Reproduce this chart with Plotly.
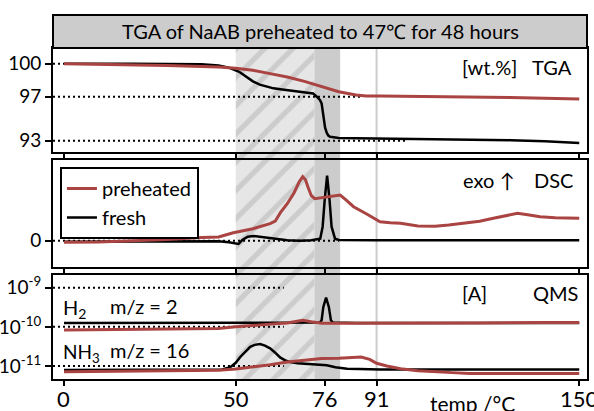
import plotly.graph_objects as go

# ---------------- data ----------------
RED = "#a94442"
BLACK = "#000000"
GREY = "#cccccc"

TICKS_X = [0, 50, 76, 91, 150]
HATCH_RANGE = [50, 72.9]
GREY_RANGE = [72.9, 80.4]
MARK_LINE = 91

# TGA [wt.%]
tga_fresh_x = [0, 10, 20, 30, 40, 45, 48, 51, 53, 55, 57, 59, 61, 63, 65, 67, 69, 71, 72.5, 73.6,
               74.5, 75, 75.5, 76, 76.5, 77, 77.5, 78.5, 80, 85, 92, 100, 110, 120, 130, 140, 150]
tga_fresh_y = [100.0, 100.02, 100.0, 99.98, 99.95, 99.85, 99.65, 99.27, 98.85, 98.4, 98.1, 97.9,
               97.76, 97.67, 97.6, 97.55, 97.48, 97.4, 97.3, 97.0, 96.7, 96.4, 95.2, 94.2, 93.7,
               93.45, 93.35, 93.3, 93.25, 93.22, 93.2, 93.18, 93.15, 93.1, 93.05, 92.95, 92.8]
tga_pre_x = [0, 10, 20, 30, 40, 45, 50, 55, 60, 65, 70, 75, 80, 85, 88, 92, 100, 110, 120, 130, 140, 150]
tga_pre_y = [100.0, 99.95, 99.93, 99.85, 99.75, 99.7, 99.58, 99.4, 99.1, 98.8, 98.4, 97.9, 97.45,
             97.15, 97.07, 97.07, 97.05, 97.02, 96.97, 96.92, 96.87, 96.8]
TGA_TICKS = [100, 97, 93]
TGA_REF = [(97, 87), (93, 100)]

# DSC (arb. units, exo up)
dsc_fresh_x = [0, 20, 40, 45, 48, 50.8, 52, 53.5, 55.1, 57, 60, 62, 65, 68.7, 72, 74.6, 75.3, 75.9,
               76.6, 77.3, 77.9, 78.9, 80, 90, 110, 130, 150]
dsc_fresh_y = [-0.1, -0.05, -0.03, -0.05, -0.15, -0.33, 0.1, 0.4, 0.47, 0.4, 0.25, 0.14, 0.05, 0.0,
               0.05, 0.2, 1.4, 4.1, 6.5, 4.1, 1.4, 0.2, 0.07, 0.05, 0.05, 0.05, 0.05]
dsc_pre_x = [0, 10, 20, 30, 40, 45, 49.3, 55, 60, 61.5, 63, 65, 67, 68.5, 69.5, 70.3, 71, 72, 73,
             75.5, 78, 80.4, 82, 84.3, 88, 92, 95, 98, 103, 108, 112, 117, 121, 125, 129, 132, 135,
             138.6, 143, 150]
dsc_pre_y = [-0.16, -0.12, 0.0, 0.12, 0.33, 0.38, 0.8, 1.2, 1.7, 1.95, 2.8, 3.7, 4.8, 5.9, 6.4, 6.1,
             5.4, 4.5, 4.2, 4.3, 4.4, 4.57, 4.1, 3.4, 2.7, 1.9, 1.8, 1.74, 1.47, 1.45, 1.57, 1.8,
             1.95, 2.24, 2.55, 2.74, 2.6, 2.4, 2.3, 2.24]
DSC_REF = [(0, 80)]

# QMS [A] (log10 of current)
h2_fresh_x = [0, 20, 40, 60, 70, 74.5, 75.0, 75.5, 76.3, 77.1, 77.7, 78.3, 85, 100, 120, 150]
h2_fresh_y = [-9.9, -9.9, -9.9, -9.9, -9.9, -9.89, -9.83, -9.49, -9.25, -9.49, -9.83, -9.89, -9.9,
              -9.9, -9.9, -9.9]
h2_pre_x = [0, 10, 20, 30, 40, 45, 50, 55, 60, 65, 68, 69.5, 72, 75, 80, 90, 100, 120, 140, 150]
h2_pre_y = [-10.08, -10.07, -10.07, -10.06, -10.05, -10.04, -10.0, -9.96, -9.93, -9.9, -9.85,
            -9.83, -9.87, -9.91, -9.91, -9.91, -9.9, -9.9, -9.89, -9.89]
nh3_fresh_x = [0, 20, 40, 46, 48.4, 50, 51.3, 52.8, 54.2, 55.5, 57.1, 58.5, 60, 61.5, 62.9, 64.5,
               65.8, 68, 70.7, 73, 76.5, 79, 82.4, 86, 92, 110, 130, 150]
nh3_fresh_y = [-11.1, -11.1, -11.1, -11.09, -11.03, -10.92, -10.77, -10.63, -10.51, -10.46, -10.44,
               -10.48, -10.55, -10.66, -10.78, -10.86, -10.9, -10.93, -10.94, -10.95, -10.98,
               -11.03, -11.07, -11.08, -11.09, -11.09, -11.09, -11.09]
nh3_pre_x = [0, 20, 40, 45, 50, 55, 60, 65, 70, 75, 80, 84, 86.5, 89, 91, 94, 98, 103, 108, 113,
             118, 130, 140, 150]
nh3_pre_y = [-11.15, -11.13, -11.11, -11.11, -11.08, -11.03, -10.97, -10.9, -10.86, -10.81, -10.8,
             -10.78, -10.77, -10.83, -10.93, -11.0, -11.07, -11.12, -11.15, -11.17, -11.19,
             -11.19, -11.19, -11.19]
QMS_TICKS = [-9, -10, -11]
QMS_REF = [(-9, 64), (-10, 64), (-11, 64)]

TITLE = "TGA of NaAB preheated to 47℃ for 48 hours"
FONT = "Lato"

# ---------------- layout geometry ----------------
XR = [-3.2, 152.26]
D1 = [0.6236, 0.9093]
D2 = [0.3077, 0.6016]
D3 = [0.0, 0.2857]

fig = go.Figure()

# background hatch subplot (xy)
fig.add_trace(go.Scatter(x=[HATCH_RANGE[0], HATCH_RANGE[1], HATCH_RANGE[1], HATCH_RANGE[0], HATCH_RANGE[0]],
                         y=[0, 0, 1, 1, 0], mode="lines", fill="toself", line=dict(width=0),
                         fillcolor=GREY,
                         fillpattern=dict(shape="/", bgcolor=GREY, fgcolor="white", size=20, solidity=0.74),
                         xaxis="x", yaxis="y", showlegend=False, hoverinfo="skip"))
fig.add_trace(go.Scatter(x=[GREY_RANGE[0], GREY_RANGE[1], GREY_RANGE[1], GREY_RANGE[0], GREY_RANGE[0]],
                         y=[0, 0, 1, 1, 0], mode="lines", fill="toself", line=dict(width=0),
                         fillcolor=GREY, xaxis="x", yaxis="y", showlegend=False, hoverinfo="skip"))
fig.add_trace(go.Scatter(x=[MARK_LINE, MARK_LINE], y=[0, 1], mode="lines",
                         line=dict(color=GREY, width=2), xaxis="x", yaxis="y",
                         showlegend=False, hoverinfo="skip"))

DOT = "2px,3px"

def ref(yv, xend, xa, ya):
    fig.add_trace(go.Scatter(x=[XR[0], xend], y=[yv, yv], mode="lines",
                             line=dict(color="black", width=2, dash=DOT),
                             xaxis=xa, yaxis=ya, showlegend=False, hoverinfo="skip"))

# panel 1: TGA
ref(100, 0, "x2", "y2")
for v, e in TGA_REF:
    ref(v, e, "x2", "y2")
fig.add_trace(go.Scatter(x=tga_fresh_x, y=tga_fresh_y, mode="lines", line=dict(color=BLACK, width=2.5),
                         xaxis="x2", yaxis="y2", showlegend=False))
fig.add_trace(go.Scatter(x=tga_pre_x, y=tga_pre_y, mode="lines", line=dict(color=RED, width=3),
                         xaxis="x2", yaxis="y2", showlegend=False))

# panel 2: DSC
for v, e in DSC_REF:
    ref(v, e, "x3", "y3")
fig.add_trace(go.Scatter(x=dsc_fresh_x, y=dsc_fresh_y, mode="lines", line=dict(color=BLACK, width=2.5),
                         xaxis="x3", yaxis="y3", name="fresh", legendrank=2))
fig.add_trace(go.Scatter(x=dsc_pre_x, y=dsc_pre_y, mode="lines", line=dict(color=RED, width=3),
                         xaxis="x3", yaxis="y3", name="preheated", legendrank=1))

# panel 3: QMS
for v, e in QMS_REF:
    ref(10 ** v, e, "x4", "y4")
for xs, ys in [(h2_fresh_x, h2_fresh_y), (nh3_fresh_x, nh3_fresh_y)]:
    fig.add_trace(go.Scatter(x=xs, y=[10 ** v for v in ys], mode="lines",
                             line=dict(color=BLACK, width=2.5), xaxis="x4", yaxis="y4", showlegend=False))
for xs, ys in [(h2_pre_x, h2_pre_y), (nh3_pre_x, nh3_pre_y)]:
    fig.add_trace(go.Scatter(x=xs, y=[10 ** v for v in ys], mode="lines",
                             line=dict(color=RED, width=3), xaxis="x4", yaxis="y4", showlegend=False))

xcommon = dict(range=XR, domain=[0, 1], showgrid=False, zeroline=False, showline=True,
               linecolor="black", linewidth=2, ticks="outside", ticklen=5, tickwidth=2,
               tickcolor="black", tickvals=TICKS_X, fixedrange=True, automargin=False,
               showticklabels=False)
ycommon = dict(showgrid=False, zeroline=False, showline=True, linecolor="black", linewidth=2,
               mirror=True, ticks="outside", ticklen=6, tickwidth=2, tickcolor="black",
               tickfont=dict(size=19, color="black"), fixedrange=True, automargin=False,
               ticklabeloverflow="allow")

fig.update_layout(
    width=594, height=411,
    margin=dict(l=53, r=7, t=15, b=32),
    paper_bgcolor="white", plot_bgcolor="rgba(0,0,0,0)",
    font=dict(family=FONT, color="black"),
    xaxis=dict(range=XR, domain=[0, 1], visible=False, fixedrange=True, automargin=False),
    yaxis=dict(range=[0, 1], domain=[0, D1[1]], visible=False, fixedrange=True, automargin=False),
    xaxis2=dict(xcommon, anchor="y2", mirror=True),
    yaxis2=dict(ycommon, anchor="x2", domain=D1, range=[91.97, 101.43], tickvals=TGA_TICKS,
                ticktext=[str(t) for t in TGA_TICKS]),
    xaxis3=dict(xcommon, anchor="y3", mirror="ticks"),
    yaxis3=dict(ycommon, anchor="x3", domain=D2, range=[-2.63, 8.07], tickvals=[0], ticktext=["0"]),
    xaxis4=dict(xcommon, anchor="y4", mirror="ticks"),
    yaxis4=dict(ycommon, anchor="x4", domain=D3, type="log", range=[-11.333, -8.674],
                tickvals=[10 ** t for t in QMS_TICKS],
                ticktext=["10<sup>%d</sup>" % t for t in QMS_TICKS]),
    legend=dict(x=0.013, y=0.5824, xanchor="left", yanchor="top", bgcolor="white",
                bordercolor="black", borderwidth=2, font=dict(size=20, color="black"),
                tracegroupgap=0, itemwidth=30),
    showlegend=True,
)

# title box
fig.add_shape(type="rect", xref="paper", yref="paper", x0=0, x1=1, y0=D1[1], y1=1,
              fillcolor=GREY, line=dict(color="black", width=2), layer="above")

# x tick labels of the bottom panel
for t in TICKS_X:
    fig.add_annotation(text=str(t), x=t, xref="x4", y=-0.0522, yref="paper", xanchor="center",
                       yanchor="middle", showarrow=False, font=dict(size=22, color="black", family=FONT))

ann = [
    dict(text=TITLE, x=0.5, y=0.9547, xanchor="center", size=20, dx=0),
    dict(text="TGA", x=0.972, y=0.858, xanchor="right", size=20, dx=2),
    dict(text="[wt.%]", x=0.764, y=0.858, xanchor="left", size=20, dx=-1),
    dict(text="DSC", x=0.974, y=0.5467, xanchor="right", size=20, dx=2),
    dict(text="exo ↑", x=0.766, y=0.5467, xanchor="left", size=20, dx=-1),
    dict(text="QMS", x=0.981, y=0.2363, xanchor="right", size=20, dx=3),
    dict(text="[A]", x=0.766, y=0.2363, xanchor="left", size=20, dx=-2),
    dict(text="H<sub>2</sub>", x=0.0187, y=0.195, xanchor="left", size=20, dx=-2),
    dict(text="m/z = 2", x=0.0974, y=0.2019, xanchor="left", size=20, dx=3),
    dict(text="NH<sub>3</sub>", x=0.0187, y=0.072, xanchor="left", size=19, dx=-2),
    dict(text="m/z = 16", x=0.0974, y=0.0783, xanchor="left", size=20, dx=3),
    dict(text="temp /°C", x=0.785, y=-0.066, xanchor="center", size=21, dx=0),
]
for a in ann:
    fig.add_annotation(text=a["text"], x=a["x"], y=a["y"], xref="paper", yref="paper",
                       xanchor=a["xanchor"], yanchor="middle", showarrow=False, xshift=a["dx"],
                       font=dict(size=a["size"], color="black", family=FONT))

fig.write_html("out.html")
